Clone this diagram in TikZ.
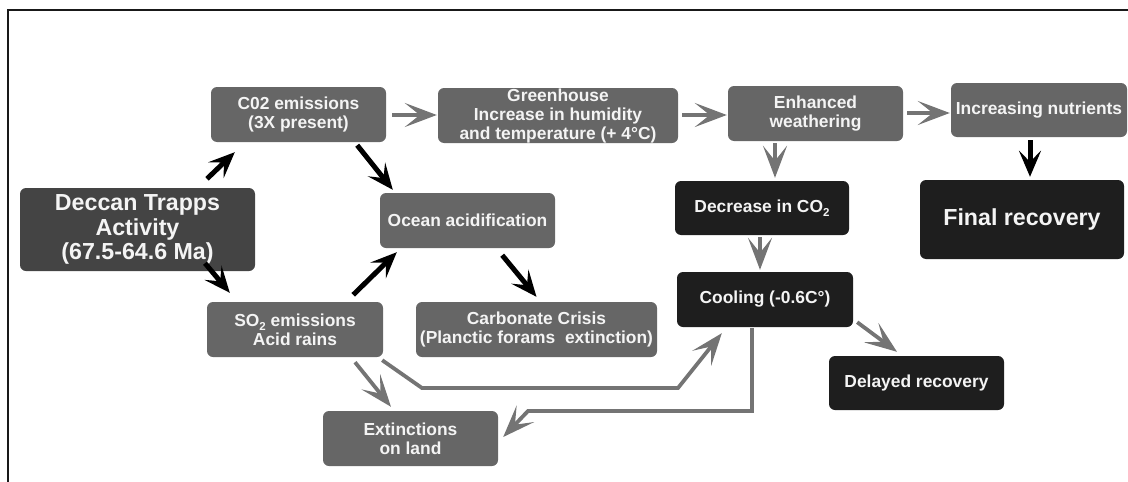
\documentclass[tikz,border=0pt]{standalone}
\usepackage{fontspec}
\setmainfont{Liberation Sans}
\usetikzlibrary{arrows.meta,calc}
\definecolor{boxgrey}{HTML}{666666}
\definecolor{boxdark}{HTML}{444444}
\definecolor{boxblack}{HTML}{1E1E1E}
\definecolor{arrgrey}{HTML}{747474}
\definecolor{txt}{HTML}{F4F4F4}
\newcommand{\subtwo}{\raisebox{-0.45ex}{\fontsize{11.5}{11.5}\selectfont 2}}
\begin{document}
\begin{tikzpicture}[x=1pt,y=-1pt,
  box/.style={rounded corners=6pt, inner sep=0pt, align=center, text=txt,
    font=\bfseries\fontsize{17.4}{19}\selectfont},
  gbox/.style={box, fill=boxgrey},
  kbox/.style={box, fill=boxblack},
  bigtext/.style={font=\bfseries\fontsize{23.2}{24.5}\selectfont},
  blkarrow/.style={draw=black, line width=5pt,
    -{Stealth[length=26pt,width=22pt,inset=11pt]}},
  gryarrow/.style={draw=arrgrey, line width=3.8pt, line join=miter,
    -{Stealth[length=32pt,width=24pt,inset=15pt]}},
  frameline/.style={draw=black!90, line width=1.8pt}
]
\useasboundingbox (0,0) rectangle (1128,482);
\coordinate (frtop) at (1128,10);
\coordinate (frcorner) at (8,10);
\coordinate (frbot) at (8,482);
\draw[frameline] (frtop) -- (frcorner) -- (frbot);

% boxes
\node[gbox, minimum width=175pt, minimum height=55pt] (c02) at (298.5,114.5) {C02 emissions\\(3X present)};
\node[box, fill=boxdark, bigtext, minimum width=235pt, minimum height=83pt] (deccan) at (137.5,229.5) {Deccan Trapps\\Activity\\(67.5-64.6 Ma)};
\node[gbox, minimum width=240pt, minimum height=55pt] (green) at (558,115.5) {Greenhouse\\Increase in humidity\\and temperature (+ 4°C)};
\node[gbox, minimum width=175pt, minimum height=55pt] (ocean) at (467.5,220.5) {Ocean acidification};
\node[gbox, minimum width=175pt, minimum height=55pt] (enh) at (815.5,113.5) {Enhanced\\weathering};
\node[gbox, minimum width=176pt, minimum height=54pt] (nutr) at (1039,110) {Increasing nutrients};
\node[kbox, minimum width=174pt, minimum height=54pt] (decr) at (762,208) {Decrease in CO\subtwo};
\node[kbox, bigtext, minimum width=204pt, minimum height=79pt] (final) at (1022,219.5) {Final recovery};
\node[gbox, minimum width=176pt, minimum height=55pt] (so2) at (295,329.5) {SO\subtwo{} emissions\\Acid rains};
\node[gbox, minimum width=241pt, minimum height=55pt] (carb) at (536.5,329.5) {Carbonate Crisis\\(Planctic forams\ \ extinction)};
\node[kbox, minimum width=176pt, minimum height=55pt] (cool) at (765,299.5) {Cooling (-0.6C°)};
\node[kbox, minimum width=175pt, minimum height=54pt] (delay) at (916.5,383) {Delayed recovery};
\node[gbox, minimum width=175pt, minimum height=55pt] (ext) at (410.5,438.5) {Extinctions\\on land};

% black arrows
\draw[blkarrow] ($(deccan.north)+(69.5,-9)$) -- ($(c02.south west)+(24,10)$);
\draw[blkarrow] ($(deccan.south)+(67.5,-8)$) -- ($(so2.north west)+(23,-9)$);
\draw[blkarrow] ($(c02.south east)+(-29,3)$) -- ($(ocean.north west)+(13,-3)$);
\draw[blkarrow] ($(so2.north east)+(-30,-7)$) -- ($(ocean.south west)+(17,4)$);
\draw[blkarrow] ($(ocean.south east)+(-53,7)$) -- ($(carb.north)+(0,-5)$);
\draw[blkarrow] ($(nutr.south)+(-9,3)$) -- ($(final.north)+(8,-3)$);

% grey arrows
\draw[gryarrow] ($(c02.east)+(6,0.5)$) -- ($(green.west)+(-1,-0.5)$);
\draw[gryarrow] ($(green.east)+(4,-0.5)$) -- ($(enh.west)+(-1,1.5)$);
\draw[gryarrow] ($(enh.east)+(4,-0.5)$) -- ($(nutr.west)+(-1,3)$);
\draw[gryarrow] ($(enh.south)+(-40.5,2)$) -- ($(decr.north)+(13,-3)$);
\draw[gryarrow] ($(decr.south)+(-2,2)$) -- ($(cool.north)+(-5,-2)$);
\draw[gryarrow] ($(cool.south east)+(4,-5)$) -- ($(delay.north)+(-19.5,-4)$);
\draw[gryarrow] ($(so2.south)+(60,5)$) -- ($(ext.north)+(-19.5,-4)$);
\draw[gryarrow] ($(so2.south east)+(-1,3)$) -- (422,388) -- (678,388) -- ($(cool.south west)+(45,6)$);
\draw[gryarrow] ($(cool.south)+(-13,1)$) -- (752,411) -- (528,411) -- ($(ext.east)+(5,-1.5)$);
\end{tikzpicture}
\end{document}
